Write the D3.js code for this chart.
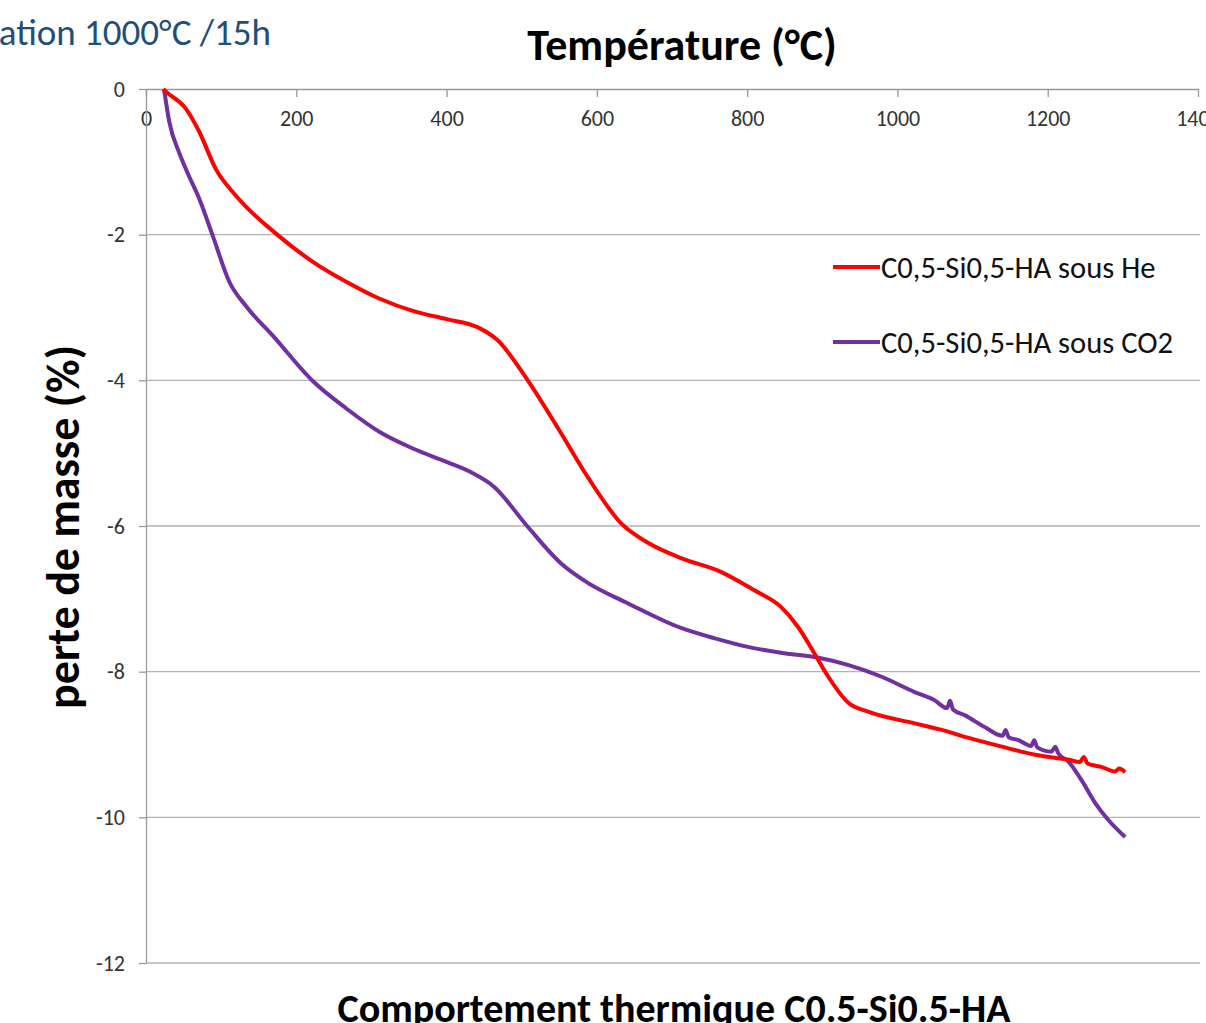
<!DOCTYPE html>
<html>
<head>
<meta charset="utf-8">
<script src="https://cdn.jsdelivr.net/npm/d3@7"></script>
<style>
  body { margin: 0; background: #fff; }
  svg { display: block; }
</style>
</head>
<body>
<svg id="chart" width="1206" height="1023"></svg>
<script>
// données (température °C, perte de masse %)
var xTicks = [0, 200, 400, 600, 800, 1000, 1200, 1400];
var yTicks = [0, -2, -4, -6, -8, -10, -12];

var tempHe = [23, 27, 53, 71, 93, 120, 177, 223, 267, 311, 356, 400, 441, 468, 508, 552, 588, 632, 668, 712, 765, 809, 845, 868, 889, 908, 935, 961, 1023, 1059, 1095, 1139, 1183, 1228, 1243, 1248, 1253, 1272, 1290, 1295, 1303];
var masseHe = [0, -0.04, -0.27, -0.59, -1.10, -1.47, -2.02, -2.38, -2.65, -2.88, -3.05, -3.16, -3.27, -3.45, -4.0, -4.72, -5.33, -5.96, -6.23, -6.44, -6.63, -6.88, -7.11, -7.39, -7.74, -8.07, -8.43, -8.55, -8.71, -8.80, -8.91, -9.03, -9.14, -9.21, -9.24, -9.17, -9.26, -9.31, -9.37, -9.33, -9.38];

var tempCO2 = [24, 31, 44, 57, 71, 89, 111, 133, 169, 223, 267, 311, 356, 400, 432, 463, 508, 552, 588, 641, 712, 756, 801, 845, 895, 935, 979, 1023, 1049, 1066, 1070, 1074, 1090, 1116, 1140, 1144, 1148, 1161, 1178, 1182, 1186, 1205, 1210, 1214, 1228, 1245, 1263, 1281, 1303];
var masseCO2 = [0, -0.45, -0.87, -1.19, -1.51, -2.02, -2.65, -2.98, -3.39, -4.02, -4.39, -4.71, -4.94, -5.12, -5.26, -5.46, -6.01, -6.51, -6.78, -7.06, -7.40, -7.54, -7.66, -7.74, -7.81, -7.91, -8.07, -8.28, -8.39, -8.50, -8.40, -8.52, -8.60, -8.76, -8.88, -8.80, -8.90, -8.94, -9.02, -8.94, -9.04, -9.10, -9.03, -9.12, -9.24, -9.49, -9.80, -10.04, -10.27];

var seriesNames = ["C0,5-Si0,5-HA sous He", "C0,5-Si0,5-HA sous CO2"];
var seriesColors = ["#ff0000", "#7030a0"];

var svg = d3.select("#chart");
var margin = { top: 89, left: 146, right: 1198, bottom: 963 };

var x = d3.scaleLinear().domain([0, 1400]).range([margin.left, margin.right]);
var y = d3.scaleLinear().domain([0, -12]).range([margin.top, margin.bottom]);

var font = "Carlito, 'Open Sans', 'Liberation Sans', sans-serif";

// lignes de grille horizontales
svg.append("g")
  .selectAll("line")
  .data(yTicks.filter(function(d) { return d !== 0; }))
  .enter()
  .append("line")
  .attr("x1", margin.left)
  .attr("x2", 1200)
  .attr("y1", function(d) { return y(d); })
  .attr("y2", function(d) { return y(d); })
  .attr("stroke", "#b3b3b3")
  .attr("stroke-width", 1.3);

// axe X (en haut, à y = 0)
var xAxis = svg.append("g")
  .attr("transform", "translate(0," + y(0) + ")")
  .call(d3.axisBottom(x).tickValues(xTicks).tickFormat(d3.format("d"))
    .tickSize(8).tickPadding(13).tickSizeOuter(0));
xAxis.select(".domain").attr("stroke", "#999").attr("stroke-width", 1.3);
xAxis.selectAll(".tick line").attr("stroke", "#999").attr("stroke-width", 1.3);
xAxis.selectAll("text")
  .attr("font-family", font)
  .attr("font-size", 22)
  .attr("fill", "#333");

// axe Y
var yAxis = svg.append("g")
  .attr("transform", "translate(" + margin.left + ",0)")
  .call(d3.axisLeft(y).tickValues(yTicks).tickFormat(function(d) { return String(d); })
    .tickSize(7).tickPadding(14).tickSizeOuter(0));
yAxis.select(".domain").attr("stroke", "#999").attr("stroke-width", 1.3);
yAxis.selectAll(".tick line").attr("stroke", "#999").attr("stroke-width", 1.3);
yAxis.selectAll("text")
  .attr("font-family", font)
  .attr("font-size", 22)
  .attr("fill", "#333");

// courbes
var line = d3.line()
  .x(function(d) { return x(d[0]); })
  .y(function(d) { return y(d[1]); })
  .curve(d3.curveMonotoneX);

var dataHe = tempHe.map(function(t, i) { return [t, masseHe[i]]; });
var dataCO2 = tempCO2.map(function(t, i) { return [t, masseCO2[i]]; });

svg.append("path")
  .datum(dataCO2)
  .attr("d", line)
  .attr("fill", "none")
  .attr("stroke", seriesColors[1])
  .attr("stroke-width", 4)
  .attr("stroke-linejoin", "round");

svg.append("path")
  .datum(dataHe)
  .attr("d", line)
  .attr("fill", "none")
  .attr("stroke", seriesColors[0])
  .attr("stroke-width", 4)
  .attr("stroke-linejoin", "round");

// légende
var legend = svg.append("g")
  .selectAll("g")
  .data(seriesNames)
  .enter()
  .append("g")
  .attr("transform", function(d, i) { return "translate(833," + (267 + i * 75) + ")"; });
legend.append("line")
  .attr("x1", 0).attr("x2", 47)
  .attr("stroke", function(d, i) { return seriesColors[i]; })
  .attr("stroke-width", 4);
legend.append("text")
  .attr("x", 48)
  .attr("dy", "0.35em")
  .attr("font-family", font)
  .attr("font-size", 30.6)
  .attr("fill", "#111")
  .text(function(d) { return d; });

// titres
svg.append("text")
  .attr("x", 682).attr("y", 60)
  .attr("text-anchor", "middle")
  .attr("font-family", font)
  .attr("font-weight", "bold")
  .attr("font-size", 44)
  .text("Température (°C)");

svg.append("text")
  .attr("x", 674).attr("y", 1022)
  .attr("text-anchor", "middle")
  .attr("font-family", font)
  .attr("font-weight", "bold")
  .attr("font-size", 40)
  .text("Comportement thermique C0.5-Si0.5-HA");

svg.append("text")
  .attr("transform", "translate(79,527) rotate(-90)")
  .attr("text-anchor", "middle")
  .attr("font-family", font)
  .attr("font-weight", "bold")
  .attr("font-size", 46)
  .text("perte de masse (%)");

svg.append("text")
  .attr("x", 271).attr("y", 45)
  .attr("text-anchor", "end")
  .attr("font-family", font)
  .attr("font-size", 37)
  .attr("fill", "#1f4e79")
  .text("ation 1000°C /15h");
</script>
</body>
</html>
